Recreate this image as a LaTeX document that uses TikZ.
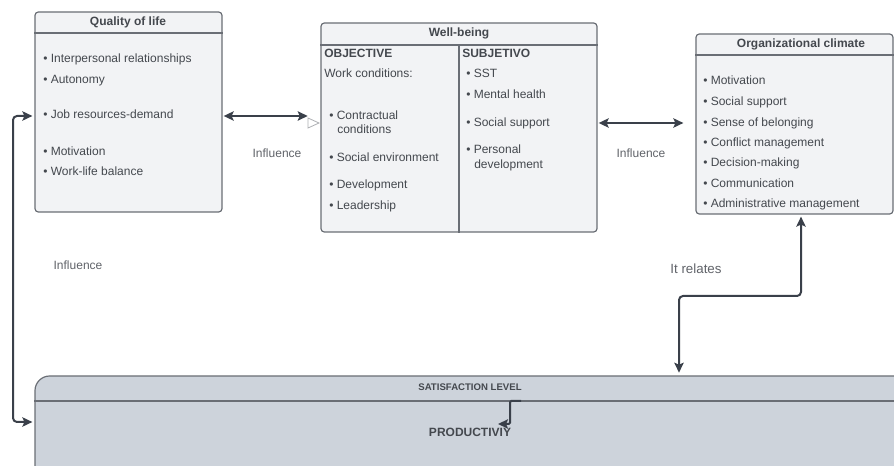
\documentclass[tikz,border=0pt]{standalone}
\usepackage{fontspec}
\setmainfont{Liberation Sans}
\usetikzlibrary{arrows.meta,fit,positioning}
\definecolor{boxfill}{HTML}{F2F3F5}
\definecolor{boxline}{HTML}{6A6E75}
\definecolor{satfill}{HTML}{CDD3DB}
\definecolor{inkgray}{HTML}{3A404A}
\definecolor{txtgray}{HTML}{44484E}

\begin{document}
\begin{tikzpicture}[x=0.75pt,y=-0.75pt,>={Stealth[length=7.5pt,width=7pt,inset=1.5pt]},
        box/.style={draw=boxline,fill=boxfill,line width=0.9pt,rounded corners=2.5pt,inner sep=0pt},
        sep/.style={draw=boxline,line width=0.9pt},
        title/.style={font=\fontsize{9}{11}\selectfont\bfseries,text=txtgray,inner sep=0pt},
        item/.style={font=\fontsize{9}{11}\selectfont,text=txtgray,anchor=west,inner sep=0pt,
            text height=6.4pt,text depth=0pt},
        conn/.style={draw=inkgray,line width=1.5pt,rounded corners=3pt},
        lbl/.style={font=\fontsize{9}{11}\selectfont,text=txtgray!85,inner sep=0pt}]

    \useasboundingbox (0,0) rectangle (894,466);

    % boxes
    \node[box,fit={(35,12) (222,212)}] (qol) {};
    \node[box,fit={(321,23) (597,232)}] (wb) {};
    \node[box,fit={(696,34) (893,214)}] (org) {};
    \node[box,fill=satfill,rounded corners=11pt,fit={(35,376) (915,500)}] (sat) {};

    \draw[sep] (qol.west |- 0,33) -- (qol.east |- 0,33);
    \draw[sep] (wb.west |- 0,45) -- (wb.east |- 0,45);
    \draw[sep] (459,45) -- (wb.south -| 459,0);
    \draw[sep] (org.west |- 0,55) -- (org.east |- 0,55);
    \draw[sep] (sat.west |- 0,401) -- (sat.east |- 0,401);

    % titles
    \node[title] (qol-t) at (128,22) {Quality of life};
    \node[title] (wb-t) at (459,33) {Well-being};
    \node[title] (org-t) at (801,44) {Organizational climate};
    \node[title,font=\fontsize{7.2}{9}\selectfont\bfseries] (sat-t) at (470,387) {SATISFACTION LEVEL};
    \node[title] (prod) at (470,432) {PRODUCTIVIY};

    % quality of life
    \foreach \y/\t [count=\i] in {58/Interpersonal relationships,79/Autonomy,114/Job resources-demand,
            151/Motivation,171/Work-life balance}
        \node[item] (qol-\i) at (43,\y) {\textbullet\ \t};

    % well-being
    \node[item,font=\fontsize{9}{11}\selectfont\bfseries] (obj) at (324,53) {OBJECTIVE};
    \node[item] (wcond) at (324,73) {Work conditions:};
    \foreach \y/\t [count=\i] in {115/Contractual,157/Social environment,184/Development,205/Leadership}
        \node[item] (obj-\i) at (329,\y) {\textbullet\ \t};
    \node[item] (obj-1b) at (337,129) {conditions};

    \node[item,font=\fontsize{9}{11}\selectfont\bfseries] (subj) at (462,53) {SUBJETIVO};
    \foreach \y/\t [count=\i] in {73/SST,94/Mental health,122/Social support,149/Personal}
        \node[item] (subj-\i) at (466,\y) {\textbullet\ \t};
    \node[item] (subj-4b) at (474,164) {development};

    % organizational climate
    \foreach \y/\t [count=\i] in {80/Motivation,101/Social support,122/Sense of belonging,
            142/Conflict management,162/Decision-making,183/Communication,203/Administrative management}
        \node[item] (org-\i) at (703,\y) {\textbullet\ \t};

    % labels
    \node[lbl] (inf-a) at (277,153) {Influence};
    \node[lbl] (inf-b) at (641,153) {Influence};
    \node[lbl] (inf-c) at (78,265) {Influence};
    \node[lbl,font=\fontsize{10}{12}\selectfont] (rel) at (696,269) {It relates};

    % connectors
    \draw[conn,<->,shorten <=0.8pt,shorten >=9.5pt] (qol.east |- 0,116) -- (wb.west |- 0,116);
    \draw[draw=boxline!55,line width=0.6pt] (308,118) -- (319,123) -- (308,128) -- cycle;
    \draw[conn,<->,shorten <=0.8pt,shorten >=9pt] (wb.east |- 0,123) -- (org.west |- 0,123);
    \draw[conn,<->,shorten <=1.5pt,shorten >=1.5pt] (qol.west |- 0,116) -- (13,116) -- (13,422)
        -- (sat.west |- 0,422);
    \draw[conn,<->,shorten <=1.5pt,shorten >=2pt] (org.south -| 801,0) -- (801,296) -- (679,296)
        -- (sat.north -| 679,0);

    \coordinate (hdr) at (521,401);
    \coordinate (prodtip) at (498,424);
    \draw[conn,->,rounded corners=1pt] (hdr) -- (510,401) -- (510,424) -- (prodtip);

\end{tikzpicture}
\end{document}
